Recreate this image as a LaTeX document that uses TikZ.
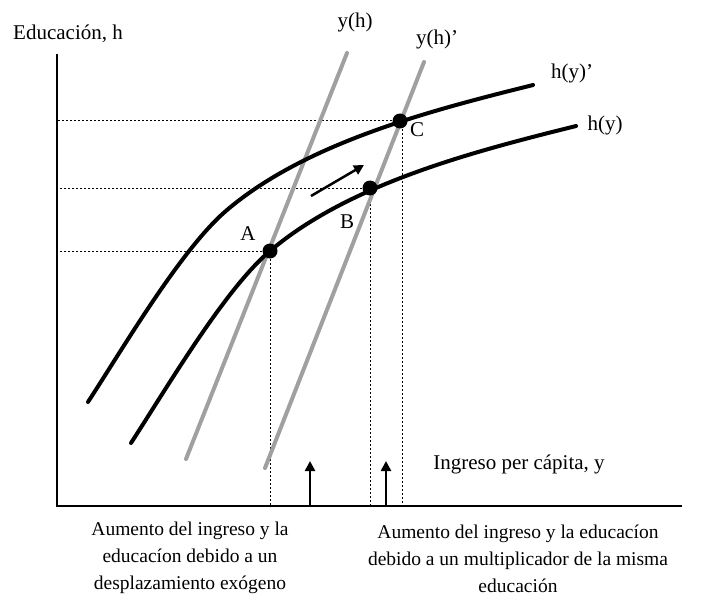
\documentclass[tikz,border=0pt]{standalone}
\usepackage{fontspec}
\setmainfont{Liberation Serif}
\usetikzlibrary{arrows.meta}

\definecolor{lineGray}{RGB}{160,160,160}

\begin{document}
\begin{tikzpicture}[
    x=1pt, y=-1pt,
    font=\fontsize{21}{27}\selectfont,
    axis/.style={line width=2pt},
    hcurve/.style={line width=4pt, line cap=round},
    ycurve/.style={line width=4pt, line cap=round, draw=lineGray},
    guide/.style={line width=1pt, dash pattern=on 2pt off 2pt},
    dot/.style={circle, fill=black, inner sep=0pt, minimum size=15pt},
    lbl/.style={inner sep=0pt, align=center},
    caption/.style={inner sep=0pt, align=center, font=\fontsize{19.5}{27}\selectfont},
    arr/.style={line width=2.5pt, -{Triangle[length=10pt, width=10pt]}}
]
\useasboundingbox (0,0) rectangle (703,596);

% ---------------- Axes ----------------
\coordinate (O) at (57,506);
\coordinate (ytop) at (57,54);
\coordinate (xend) at (682,506);
\draw[axis] (ytop) -- (O) -- (xend);

\node[lbl, anchor=west] (hlabel) at (13,34) {Educación, h};
\node[lbl] (ylabel) at (519,464) {Ingreso per cápita, y};

% ---------------- Equilibria ----------------
\coordinate (A) at (270,251);
\coordinate (B) at (370,188);
\coordinate (C) at (400,121);

\node[lbl] (lblA) at (248,234) {A};
\node[lbl] (lblB) at (347,222) {B};
\node[lbl] (lblC) at (417,130) {C};

% ---------------- Guides ----------------
\draw[guide] (A) -- (A -| O);
\draw[guide] (B) -- (B -| O);
\draw[guide] (C) -- (C -| O);
\draw[guide] (A) -- (A |- O);
\draw[guide] (B) -- (B |- O);
\draw[guide] ([xshift=2pt]C) -- ([xshift=2pt]C |- O);

% ---------------- y(h) lines ----------------
\coordinate (yh0) at (186,459);
\coordinate (yh1) at (347,53);
\coordinate (yhp0) at (265,468);
\coordinate (yhp1) at (424,62);
\draw[ycurve] (yh0) -- (yh1);
\draw[ycurve] (yhp0) -- (yhp1);
\node[lbl] (yhlbl) at (355,22) {y(h)};
\node[lbl] (yhplbl) at (437,39) {y(h)’};

% ---------------- h(y) curves ----------------
\draw[hcurve] (131,443) .. controls (168,386) and (225,289) .. (A)
    .. controls (350,183) and (476,151) .. (576,126);
\begin{scope}[shift={(-43,-41)}]
\draw[hcurve] (131,443) .. controls (168,386) and (225,289) .. (270,251)
    .. controls (350,183) and (476,151) .. (576,126);
\end{scope}
\node[lbl] (hylbl) at (605,125) {h(y)};
\node[lbl] (hyplbl) at (572,73) {h(y)’};

% ---------------- Points ----------------
\node[dot] (dotA) at (A) {};
\node[dot] (dotB) at (B) {};
\node[dot] (dotC) at (C) {};

% ---------------- Arrows ----------------
\coordinate (shift0) at (311,196);
\coordinate (shift1) at (364,165);
\draw[arr] (shift0) -- (shift1);

\coordinate (up1) at (310,506);
\coordinate (up1t) at (310,461);
\coordinate (up2) at (386,506);
\coordinate (up2t) at (386,461);
\draw[arr] (up1) -- (up1t);
\draw[arr] (up2) -- (up2t);

% ---------------- Captions ----------------
\node[caption] (exog) at (190,558) {Aumento del ingreso y la\\ educacíon debido a un\\ desplazamiento exógeno};
\node[caption] (mult) at (518,559) {Aumento del ingreso y la educacíon\\ debido a un multiplicador de la misma\\ educación};

\end{tikzpicture}
\end{document}
